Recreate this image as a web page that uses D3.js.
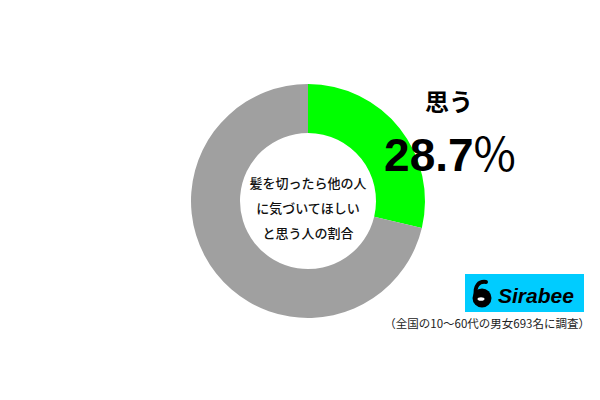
<!DOCTYPE html>
<html>
<head>
<meta charset="utf-8">
<script src="https://cdn.jsdelivr.net/npm/d3@7"></script>
<style>
  html, body { margin: 0; padding: 0; background: #fff; }
  svg { display: block; }
</style>
</head>
<body>
<div id="chart"></div>
<script>
const categories = ["思う", "思わない"];
const values = [28.7, 71.3];
const colors = ["#00ff00", "#a0a0a0"];
const centerLines = ["髪を切ったら他の人", "に気づいてほしい", "と思う人の割合"];
const note = "（全国の10〜60代の男女693名に調査）";

const width = 600, height = 400;
const cx = 308, cy = 201;
const outerR = 117, innerR = 68;

const svg = d3.select("#chart").append("svg")
    .attr("width", width).attr("height", height);

const font = "'Noto Sans CJK JP', 'Noto Sans', sans-serif";

const pie = d3.pie().sort(null).value(d => d);
const arc = d3.arc().innerRadius(innerR).outerRadius(outerR);

const g = svg.append("g").attr("transform", `translate(${cx},${cy})`);
g.selectAll("path").data(pie(values)).enter().append("path")
    .attr("d", arc)
    .attr("fill", (d, i) => colors[i]);

// center text
g.selectAll("text.center").data(centerLines).enter().append("text")
    .attr("class", "center")
    .attr("x", 0)
    .attr("y", (d, i) => -13 + i * 25)
    .attr("text-anchor", "middle")
    .attr("font-family", font)
    .attr("font-weight", 500)
    .attr("font-size", 13)
    .attr("fill", "#111")
    .text(d => d);

// label
svg.append("text")
    .attr("x", 449).attr("y", 111)
    .attr("text-anchor", "middle")
    .attr("font-family", font)
    .attr("font-weight", 700)
    .attr("font-size", 24)
    .attr("fill", "#000")
    .text(categories[0]);

const pct = svg.append("text")
    .attr("x", 450).attr("y", 171)
    .attr("text-anchor", "middle")
    .attr("font-family", "'Liberation Sans', Arial, sans-serif")
    .attr("font-weight", 700)
    .attr("font-size", 46)
    .attr("fill", "#000");
pct.append("tspan").text(values[0].toFixed(1));
pct.append("tspan").attr("font-weight", 400).attr("font-family", font).text("%");

// logo
const logo = svg.append("g").attr("transform", "translate(465,274)");
logo.append("rect").attr("width", 119).attr("height", 38).attr("fill", "#00ccff");
logo.append("path")
    .attr("d", "M11,22 C9,12 14,7 21,8")
    .attr("stroke", "#000").attr("stroke-width", 4).attr("stroke-linecap", "round").attr("fill", "none");
logo.append("circle").attr("cx", 17).attr("cy", 24).attr("r", 9.5).attr("fill", "#000");
logo.append("ellipse").attr("cx", 16).attr("cy", 25).attr("rx", 3.5).attr("ry", 1.8).attr("fill", "#fff");
logo.append("text")
    .attr("x", 33).attr("y", 29)
    .attr("font-family", "'Liberation Sans', Arial, sans-serif")
    .attr("font-weight", 700)
    .attr("font-style", "italic")
    .attr("font-size", 21)
    .attr("fill", "#000")
    .text("Sirabee");

svg.append("text")
    .attr("x", 590).attr("y", 328)
    .attr("text-anchor", "end")
    .attr("font-family", font)
    .attr("font-size", 11.5)
    .attr("fill", "#222")
    .text(note);
</script>
</body>
</html>
